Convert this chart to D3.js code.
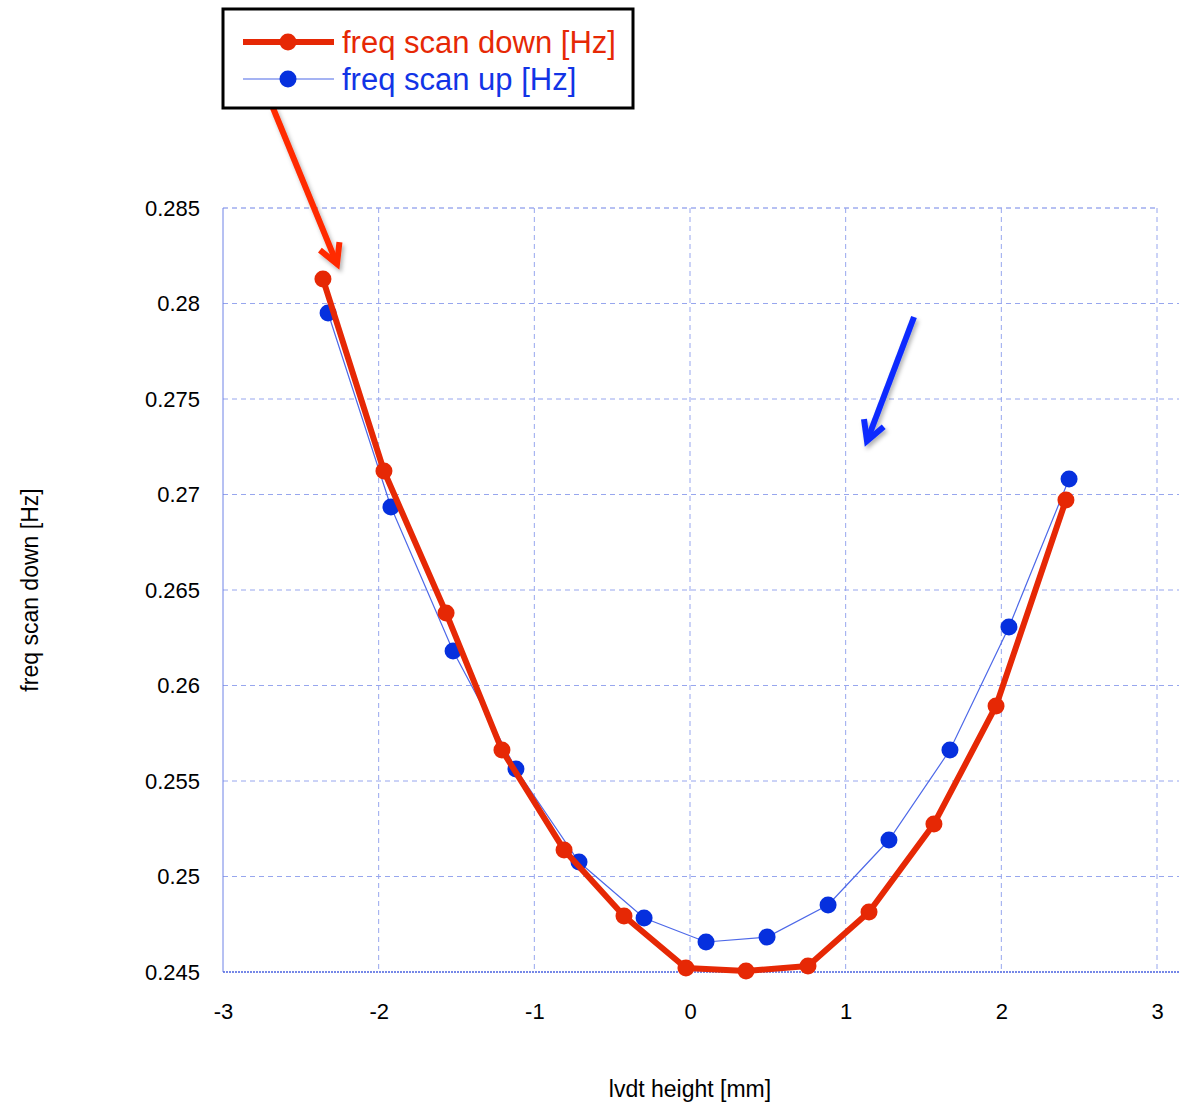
<!DOCTYPE html>
<html>
<head>
<meta charset="utf-8">
<script src="https://cdn.jsdelivr.net/npm/d3@7"></script>
<style>
  html, body { margin: 0; padding: 0; background: #fff; }
  svg { display: block; font-family: Helvetica, Arial, "Liberation Sans", sans-serif; }
</style>
</head>
<body>
<svg id="chart" width="1179" height="1103"></svg>
<script>
// lvdt height [mm] and resonance frequency [Hz] for both scan directions
const downX = [-2.358, -1.966, -1.567, -1.208, -0.809, -0.424, -0.026, 0.360, 0.758, 1.150, 1.567, 1.966, 2.415];
const downY = [0.28128, 0.27123, 0.26380, 0.25662, 0.25139, 0.24793, 0.24521, 0.24505, 0.24531, 0.24814, 0.25275, 0.25893, 0.26971];
const upX = [-2.325, -1.921, -1.522, -1.118, -0.713, -0.295, 0.103, 0.495, 0.887, 1.278, 1.670, 2.049, 2.435];
const upY = [0.27950, 0.26935, 0.26181, 0.25563, 0.25076, 0.24783, 0.24657, 0.24683, 0.24851, 0.25191, 0.25662, 0.26306, 0.27081];

const xTicks = [-3, -2, -1, 0, 1, 2, 3];
const xTickLabels = ["-3", "-2", "-1", "0", "1", "2", "3"];
const yTicks = [0.245, 0.25, 0.255, 0.26, 0.265, 0.27, 0.275, 0.28, 0.285];
const yTickLabels = ["0.245", "0.25", "0.255", "0.26", "0.265", "0.27", "0.275", "0.28", "0.285"];

const seriesNames = ["freq scan down [Hz]", "freq scan up [Hz]"];
const xTitle = "lvdt height [mm]";
const yTitle = "freq scan down [Hz]";

const RED = "#e62805";
const BLUE = "#0630de";
const GRID = "#97a6ee";

const svg = d3.select("#chart");
const plotL = 223, plotR = 1157, plotT = 208, plotB = 972;

const x = d3.scaleLinear().domain([-3, 3]).range([plotL, plotR]);
const y = d3.scaleLinear().domain([0.245, 0.285]).range([plotB, plotT]);

// soft shadow for the annotation arrows
const defs = svg.append("defs");
const f = defs.append("filter").attr("id", "shadow").attr("x", "-50%").attr("y", "-50%").attr("width", "200%").attr("height", "200%");
f.append("feDropShadow").attr("dx", 2).attr("dy", 3).attr("stdDeviation", 2)
  .attr("flood-color", "#000").attr("flood-opacity", 0.3);

// grid
const grid = svg.append("g");
grid.selectAll("line.h").data(yTicks.filter(v => v !== 0.245)).join("line")
  .attr("x1", plotL).attr("x2", d => d === 0.285 ? plotR : 1179)
  .attr("y1", d => y(d)).attr("y2", d => y(d))
  .attr("stroke", d => d === 0.285 ? "#6f82e6" : GRID).attr("stroke-width", 1).attr("stroke-dasharray", "5,4");
grid.selectAll("line.v").data(xTicks.filter(v => v !== -3)).join("line")
  .attr("x1", d => x(d)).attr("x2", d => x(d))
  .attr("y1", plotT).attr("y2", plotB)
  .attr("stroke", GRID).attr("stroke-width", 1).attr("stroke-dasharray", "5,4");
// left axis line
grid.append("line").attr("x1", plotL).attr("x2", plotL).attr("y1", plotT).attr("y2", plotB)
  .attr("stroke", "#6f82e6").attr("stroke-width", 1);
// bottom axis line
grid.append("line").attr("x1", plotL).attr("x2", 1179).attr("y1", plotB).attr("y2", plotB)
  .attr("stroke", "#4a62e0").attr("stroke-width", 1.5).attr("stroke-dasharray", "2,1");

// axes (labels only)
const yAxis = svg.append("g").attr("transform", `translate(${plotL - 23},0)`)
  .call(d3.axisLeft(y).tickValues(yTicks).tickSize(0).tickPadding(0)
    .tickFormat((d, i) => yTickLabels[i]));
yAxis.select(".domain").remove();
yAxis.selectAll("text").attr("font-size", 22).attr("fill", "#000")
  .attr("font-family", "Helvetica, Arial, 'Liberation Sans', sans-serif");

const xAxis = svg.append("g").attr("transform", `translate(0,${plotB + 31})`)
  .call(d3.axisBottom(x).tickValues(xTicks).tickSize(0).tickPadding(0)
    .tickFormat((d, i) => xTickLabels[i]));
xAxis.select(".domain").remove();
xAxis.selectAll("text").attr("font-size", 22).attr("fill", "#000")
  .attr("font-family", "Helvetica, Arial, 'Liberation Sans', sans-serif");

// axis titles
svg.append("text").attr("x", 690).attr("y", 1097).attr("text-anchor", "middle")
  .attr("font-size", 23).attr("fill", "#000").text(xTitle);
svg.append("text").attr("transform", "translate(38,590) rotate(-90)").attr("text-anchor", "middle")
  .attr("font-size", 23).attr("fill", "#000").text(yTitle);

// series
const line = d3.line().x(d => x(d[0])).y(d => y(d[1]));
const upData = upX.map((v, i) => [v, upY[i]]);
const downData = downX.map((v, i) => [v, downY[i]]);

svg.append("path").datum(upData).attr("d", line)
  .attr("fill", "none").attr("stroke", "#4d68e8").attr("stroke-width", 1.2);
svg.append("g").selectAll("circle").data(upData).join("circle")
  .attr("cx", d => x(d[0])).attr("cy", d => y(d[1])).attr("r", 8.5).attr("fill", BLUE);

svg.append("path").datum(downData).attr("d", line)
  .attr("fill", "none").attr("stroke", RED).attr("stroke-width", 6).attr("stroke-linejoin", "round");
svg.append("g").selectAll("circle").data(downData).join("circle")
  .attr("cx", d => x(d[0])).attr("cy", d => y(d[1])).attr("r", 8.5).attr("fill", RED);

// annotation arrows
function arrow(x1, y1, x2, y2, color) {
  const g = svg.append("g").attr("filter", "url(#shadow)")
    .attr("stroke", color).attr("stroke-width", 6).attr("stroke-linecap", "butt").attr("fill", "none");
  const ang = Math.atan2(y2 - y1, x2 - x1);
  const L = 22, a = 0.5;
  g.append("line").attr("x1", x1).attr("y1", y1).attr("x2", x2).attr("y2", y2);
  g.append("path").attr("stroke-linejoin", "miter")
    .attr("d", `M${x2 - L * Math.cos(ang - a)},${y2 - L * Math.sin(ang - a)} L${x2},${y2} L${x2 - L * Math.cos(ang + a)},${y2 - L * Math.sin(ang + a)}`);
}
arrow(273, 108, 337, 264, "#ff2a00");
arrow(914, 317, 867, 441, "#0a2cff");

// legend
const lg = svg.append("g");
lg.append("rect").attr("x", 223).attr("y", 9).attr("width", 410).attr("height", 99)
  .attr("fill", "#fff").attr("stroke", "#000").attr("stroke-width", 3);
const legendItems = [
  { name: seriesNames[0], color: RED, text: RED, w: 6, y: 42 },
  { name: seriesNames[1], color: BLUE, text: "#1234e6", w: 1.2, y: 79 }
];
legendItems.forEach((it, i) => {
  lg.append("line").attr("x1", 243).attr("x2", 334).attr("y1", it.y).attr("y2", it.y)
    .attr("stroke", i === 0 ? RED : "#4d68e8").attr("stroke-width", it.w);
  lg.append("circle").attr("cx", 288).attr("cy", it.y).attr("r", 8.5).attr("fill", it.color);
  lg.append("text").attr("x", 342).attr("y", it.y + 11).attr("font-size", 31)
    .attr("fill", it.text).text(it.name);
});
</script>
</body>
</html>
